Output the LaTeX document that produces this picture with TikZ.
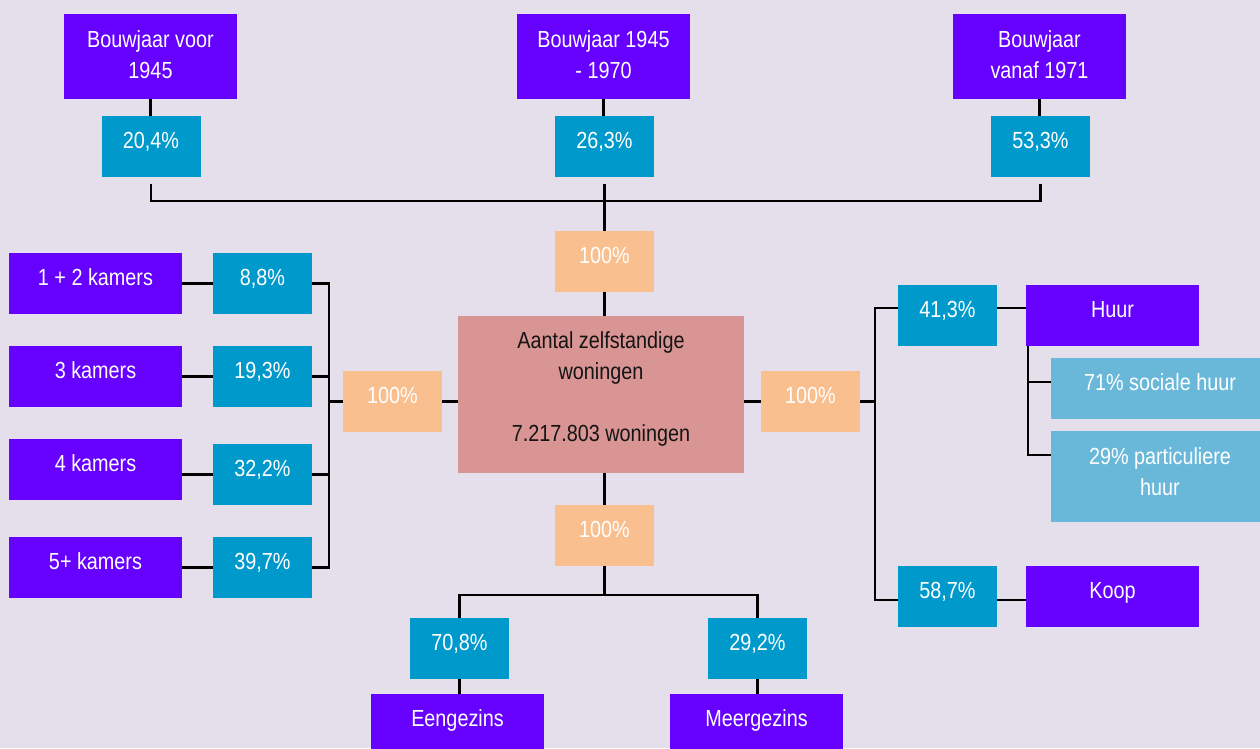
\documentclass[tikz,border=0pt]{standalone}
\usepackage{fontspec}
\setmainfont{Liberation Sans}[FakeStretch=0.85]
\definecolor{bgcol}{RGB}{228,223,235}
\definecolor{cpurple}{RGB}{102,0,255}
\definecolor{cteal}{RGB}{0,153,204}
\definecolor{cpeach}{RGB}{249,191,143}
\definecolor{cpink}{RGB}{217,149,148}
\definecolor{clblue}{RGB}{105,184,218}
\definecolor{ctext}{RGB}{20,20,20}
\newcommand{\mlines}[1]{\begin{tabular}[t]{@{}c@{}}#1\end{tabular}}
\begin{document}
\begin{tikzpicture}[x=1pt,y=-1pt,
  box/.style={draw=none, inner sep=0pt, outer sep=0pt,
    font=\fontsize{23.3pt}{31pt}\selectfont, text=white,
    text height=16pt, text depth=11.3pt},
  purp/.style={box, fill=cpurple, minimum width=173pt, minimum height=61pt},
  pct/.style={box, fill=cteal, minimum width=99pt, minimum height=61pt},
  tot/.style={box, fill=cpeach, minimum width=99pt, minimum height=61pt},
  subbox/.style={box, fill=clblue, minimum width=218pt, minimum height=61pt},
  conn/.style={draw=black, line width=2.3pt}]
\fill[bgcol] (0,0) rectangle (1260,748);
\useasboundingbox (0,0) rectangle (1260,748);

% top row
\node[purp, minimum height=85pt, text depth=34.3pt] (p1) at (150.5,56.5) {\mlines{Bouwjaar voor\\1945}};
\node[purp, minimum height=85pt, text depth=34.3pt] (p2) at (603.5,56.5) {\mlines{Bouwjaar 1945\\- 1970}};
\node[purp, minimum height=85pt, text depth=34.3pt] (p3) at (1039.5,56.5) {\mlines{Bouwjaar\\vanaf 1971}};
\node[pct] (t1) at (151,146.5) {20,4\%};
\node[pct] (t2) at (604.5,146.5) {26,3\%};
\node[pct] (t3) at (1040.5,146.5) {53,3\%};
\node[tot] (c1) at (604.5,261.5) {100\%};

% center
\node[box, fill=cpink, text=ctext, minimum width=286pt, minimum height=157pt, text depth=108.3pt] (m) at (601,394.5)
  {\mlines{Aantal zelfstandige\\woningen\\[31pt]7.217.803 woningen}};

% left
\node[purp] (k1) at (95.5,283.5) {1 + 2 kamers};
\node[purp] (k2) at (95.5,376.5) {3 kamers};
\node[purp] (k3) at (95.5,469.5) {4 kamers};
\node[purp] (k4) at (95.5,567.5) {5+ kamers};
\node[pct] (q1) at (262.5,283.5) {8,8\%};
\node[pct] (q2) at (262.5,376.5) {19,3\%};
\node[pct] (q3) at (262.5,474.5) {32,2\%};
\node[pct] (q4) at (262.5,567.5) {39,7\%};
\node[tot] (c2) at (392.5,401.5) {100\%};

% right
\node[tot] (c3) at (810.5,401.5) {100\%};
\node[pct] (r1) at (947.5,315.5) {41,3\%};
\node[pct] (r2) at (947.5,596.5) {58,7\%};
\node[purp] (h1) at (1112.5,315.5) {Huur};
\node[purp] (h2) at (1112.5,596.5) {Koop};
\node[subbox] (s1) at (1160,388.5) {71\% sociale huur};
\node[subbox, minimum height=91pt, text depth=40.3pt] (s2) at (1160,476.5) {\mlines{29\% particuliere\\huur}};

% bottom
\node[tot] (c4) at (604.5,535.5) {100\%};
\node[pct] (e1) at (459.5,648.5) {70,8\%};
\node[pct] (e2) at (757.5,648.5) {29,2\%};
\node[purp] (f1) at (457.5,724.5) {Eengezins};
\node[purp] (f2) at (756.5,724.5) {Meergezins};

% connectors top
\coordinate (hb) at (604.5,201);
\draw[conn] (p1.south) -- (p1.south |- t1.north);
\draw[conn] (p2.south) -- (p2.south |- t2.north);
\draw[conn] (p3.south) -- (p3.south |- t3.north);
\draw[conn] ([yshift=-7pt]t1.south) |- (hb) -| ([yshift=-7pt]t3.south);
\draw[conn] ([yshift=-7pt]t2.south) -- (c1.north);
\draw[conn] (c1.south) -- (m.north -| c1.south);

% connectors left
\coordinate (lv) at (329,401.5);
\draw[conn] (k1.east) -- (k1.east -| q1.west);
\draw[conn] (k2.east) -- (k2.east -| q2.west);
\draw[conn] (q3.west -| k3.east) -- (q3.west);
\draw[conn] (k4.east) -- (k4.east -| q4.west);
\draw[conn] (q1.east) -| (lv) |- (q4.east);
\draw[conn] (q2.east) -- (q2.east -| lv);
\draw[conn] (q3.east) -- (q3.east -| lv);
\draw[conn] (lv) -- (c2.west);
\draw[conn] (c2.east) -- (c2.east -| m.west);

% connectors right
\coordinate (rv) at (875,401.5);
\coordinate (r1in) at ([yshift=7.5pt]r1.west);
\coordinate (r1out) at ([yshift=7.5pt]r1.east);
\coordinate (r2in) at ([yshift=-3.5pt]r2.west);
\coordinate (r2out) at ([yshift=-3.5pt]r2.east);
\coordinate (hx) at ([xshift=2pt]h1.south west);
\coordinate (s1in) at ([yshift=6.5pt]s1.west);
\coordinate (s2in) at ([yshift=21.5pt]s2.west);
\draw[conn] (m.east |- c3.west) -- (c3.west);
\draw[conn] (c3.east) -- (rv);
\draw[conn] (r1in) -| (rv) |- (r2in);
\draw[conn] (r1out) -- (r1out -| h1.west);
\draw[conn] (r2out) -- (r2out -| h2.west);
\draw[conn] (hx) |- (s2in);
\draw[conn] (s1in) -- (s1in -| hx);

% connectors bottom
\coordinate (bj) at (604.5,595);
\draw[conn] (c4.north) -- (c4.north |- m.south);
\draw[conn] (c4.south) -- (bj);
\draw[conn] (e1.north) |- (bj) -| (e2.north);
\draw[conn] (e1.south) -- (e1.south |- f1.north);
\draw[conn] (e2.south) -- (e2.south |- f2.north);
\end{tikzpicture}
\end{document}
